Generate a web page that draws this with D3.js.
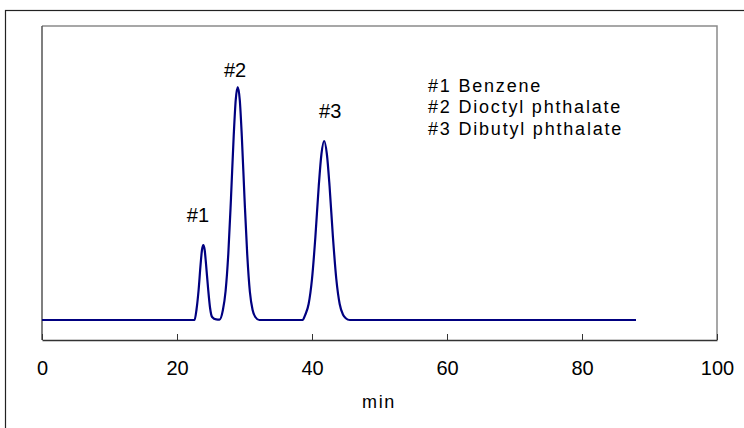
<!DOCTYPE html>
<html>
<head>
<meta charset="utf-8">
<script src="https://cdn.jsdelivr.net/npm/d3@7"></script>
<style>
  body { margin: 0; background: #fff; }
  svg { display: block; font-family: "Liberation Sans", Arial, sans-serif; }
</style>
</head>
<body>
<script>
// Chromatogram trace (time in min, detector signal in arbitrary units)
const times  = [0, 22.6, 22.9, 23.2, 23.5, 23.7, 23.9, 24.1, 24.3, 24.6, 24.9, 25.2, 25.8, 26.3,
                26.8, 27.2, 27.6, 28.0, 28.4, 28.7, 29.0, 29.3, 29.6, 30.0, 30.4, 30.8, 31.2, 31.6, 32.2,
                38.6, 39.0, 39.5, 40.0, 40.5, 41.0, 41.4, 41.8, 42.2, 42.6, 43.1, 43.6, 44.1, 44.6, 45.0, 45.6, 88];
const signal = [0, 0, 5.5, 15, 28, 35, 37.5, 35, 28, 16, 6, 1.5, 0.3, 0.2,
                5, 14.5, 33, 61, 92, 110, 116.5, 110, 92, 61, 33, 14, 5, 1.5, 0,
                0, 2.6, 8, 20.5, 41.5, 67, 83, 89.5, 83, 67, 41.5, 20.5, 8, 2.6, 0.9, 0, 0];

// peak annotations
const peakNames = ["#1", "#2", "#3"];
const peakLabelTime = [23.1, 28.6, 42.7];
const peakLabelSignal = [49, 121.6, 101.2];

// legend lines
const compounds = ["#1 Benzene", "#2 Dioctyl phthalate", "#3 Dibutyl phthalate"];

const xTicks = [0, 20, 40, 60, 80, 100];
const xLabel = "min";

const width = 744, height = 428;
const plotL = 42, plotR = 717, plotT = 26, plotB = 340;

const x = d3.scaleLinear().domain([0, 100]).range([plotL, plotR]);
const y = d3.scaleLinear().domain([-10, 147]).range([plotB, plotT]);

const svg = d3.select("body").append("svg")
    .attr("width", width)
    .attr("height", height);

// outer chart frame (runs off the right and bottom edges)
svg.append("rect")
    .attr("x", 5.5).attr("y", 10.5)
    .attr("width", 780).attr("height", 460)
    .attr("fill", "none")
    .attr("stroke", "#222")
    .attr("stroke-width", 1.2);

// plot area border: top + right grey
svg.append("path")
    .attr("d", `M${plotL},${plotT}H${plotR}V${plotB}`)
    .attr("fill", "none")
    .attr("stroke", "#8a8a8a")
    .attr("stroke-width", 1.5);

// left edge
svg.append("line")
    .attr("x1", plotL).attr("x2", plotL)
    .attr("y1", plotT).attr("y2", plotB)
    .attr("stroke", "#555")
    .attr("stroke-width", 1.5);

// x axis
const xAxis = d3.axisBottom(x)
    .tickValues(xTicks)
    .tickSizeInner(-6)
    .tickSizeOuter(0)
    .tickPadding(21)
    .tickFormat(d3.format("d"));

const gx = svg.append("g")
    .attr("transform", `translate(0,${plotB})`)
    .call(xAxis);

gx.select(".domain").attr("stroke", "#333").attr("stroke-width", 1.5);
gx.selectAll(".tick line").attr("stroke", "#333").attr("stroke-width", 1);
gx.selectAll(".tick text")
    .attr("fill", "#000")
    .style("font-size", "20px");

svg.append("text")
    .attr("x", 379).attr("y", 408)
    .attr("text-anchor", "middle")
    .style("font-size", "18px")
    .style("letter-spacing", "1.6px")
    .text(xLabel);

// trace
const line = d3.line()
    .x((d, i) => x(times[i]))
    .y(d => y(d))
    .curve(d3.curveMonotoneX);

svg.append("path")
    .datum(signal)
    .attr("d", line)
    .attr("fill", "none")
    .attr("stroke", "#000080")
    .attr("stroke-width", 2.2);

// peak labels
svg.append("g")
    .selectAll("text")
    .data(peakNames)
    .join("text")
    .attr("x", (d, i) => x(peakLabelTime[i]))
    .attr("y", (d, i) => y(peakLabelSignal[i]))
    .attr("text-anchor", "middle")
    .style("font-size", "20px")
    .text(d => d);

// legend
svg.append("g")
    .selectAll("text")
    .data(compounds)
    .join("text")
    .attr("x", 428)
    .attr("y", (d, i) => 92 + i * 21.4)
    .style("font-size", "18px")
    .style("letter-spacing", "1.8px")
    .text(d => d);
</script>
</body>
</html>
